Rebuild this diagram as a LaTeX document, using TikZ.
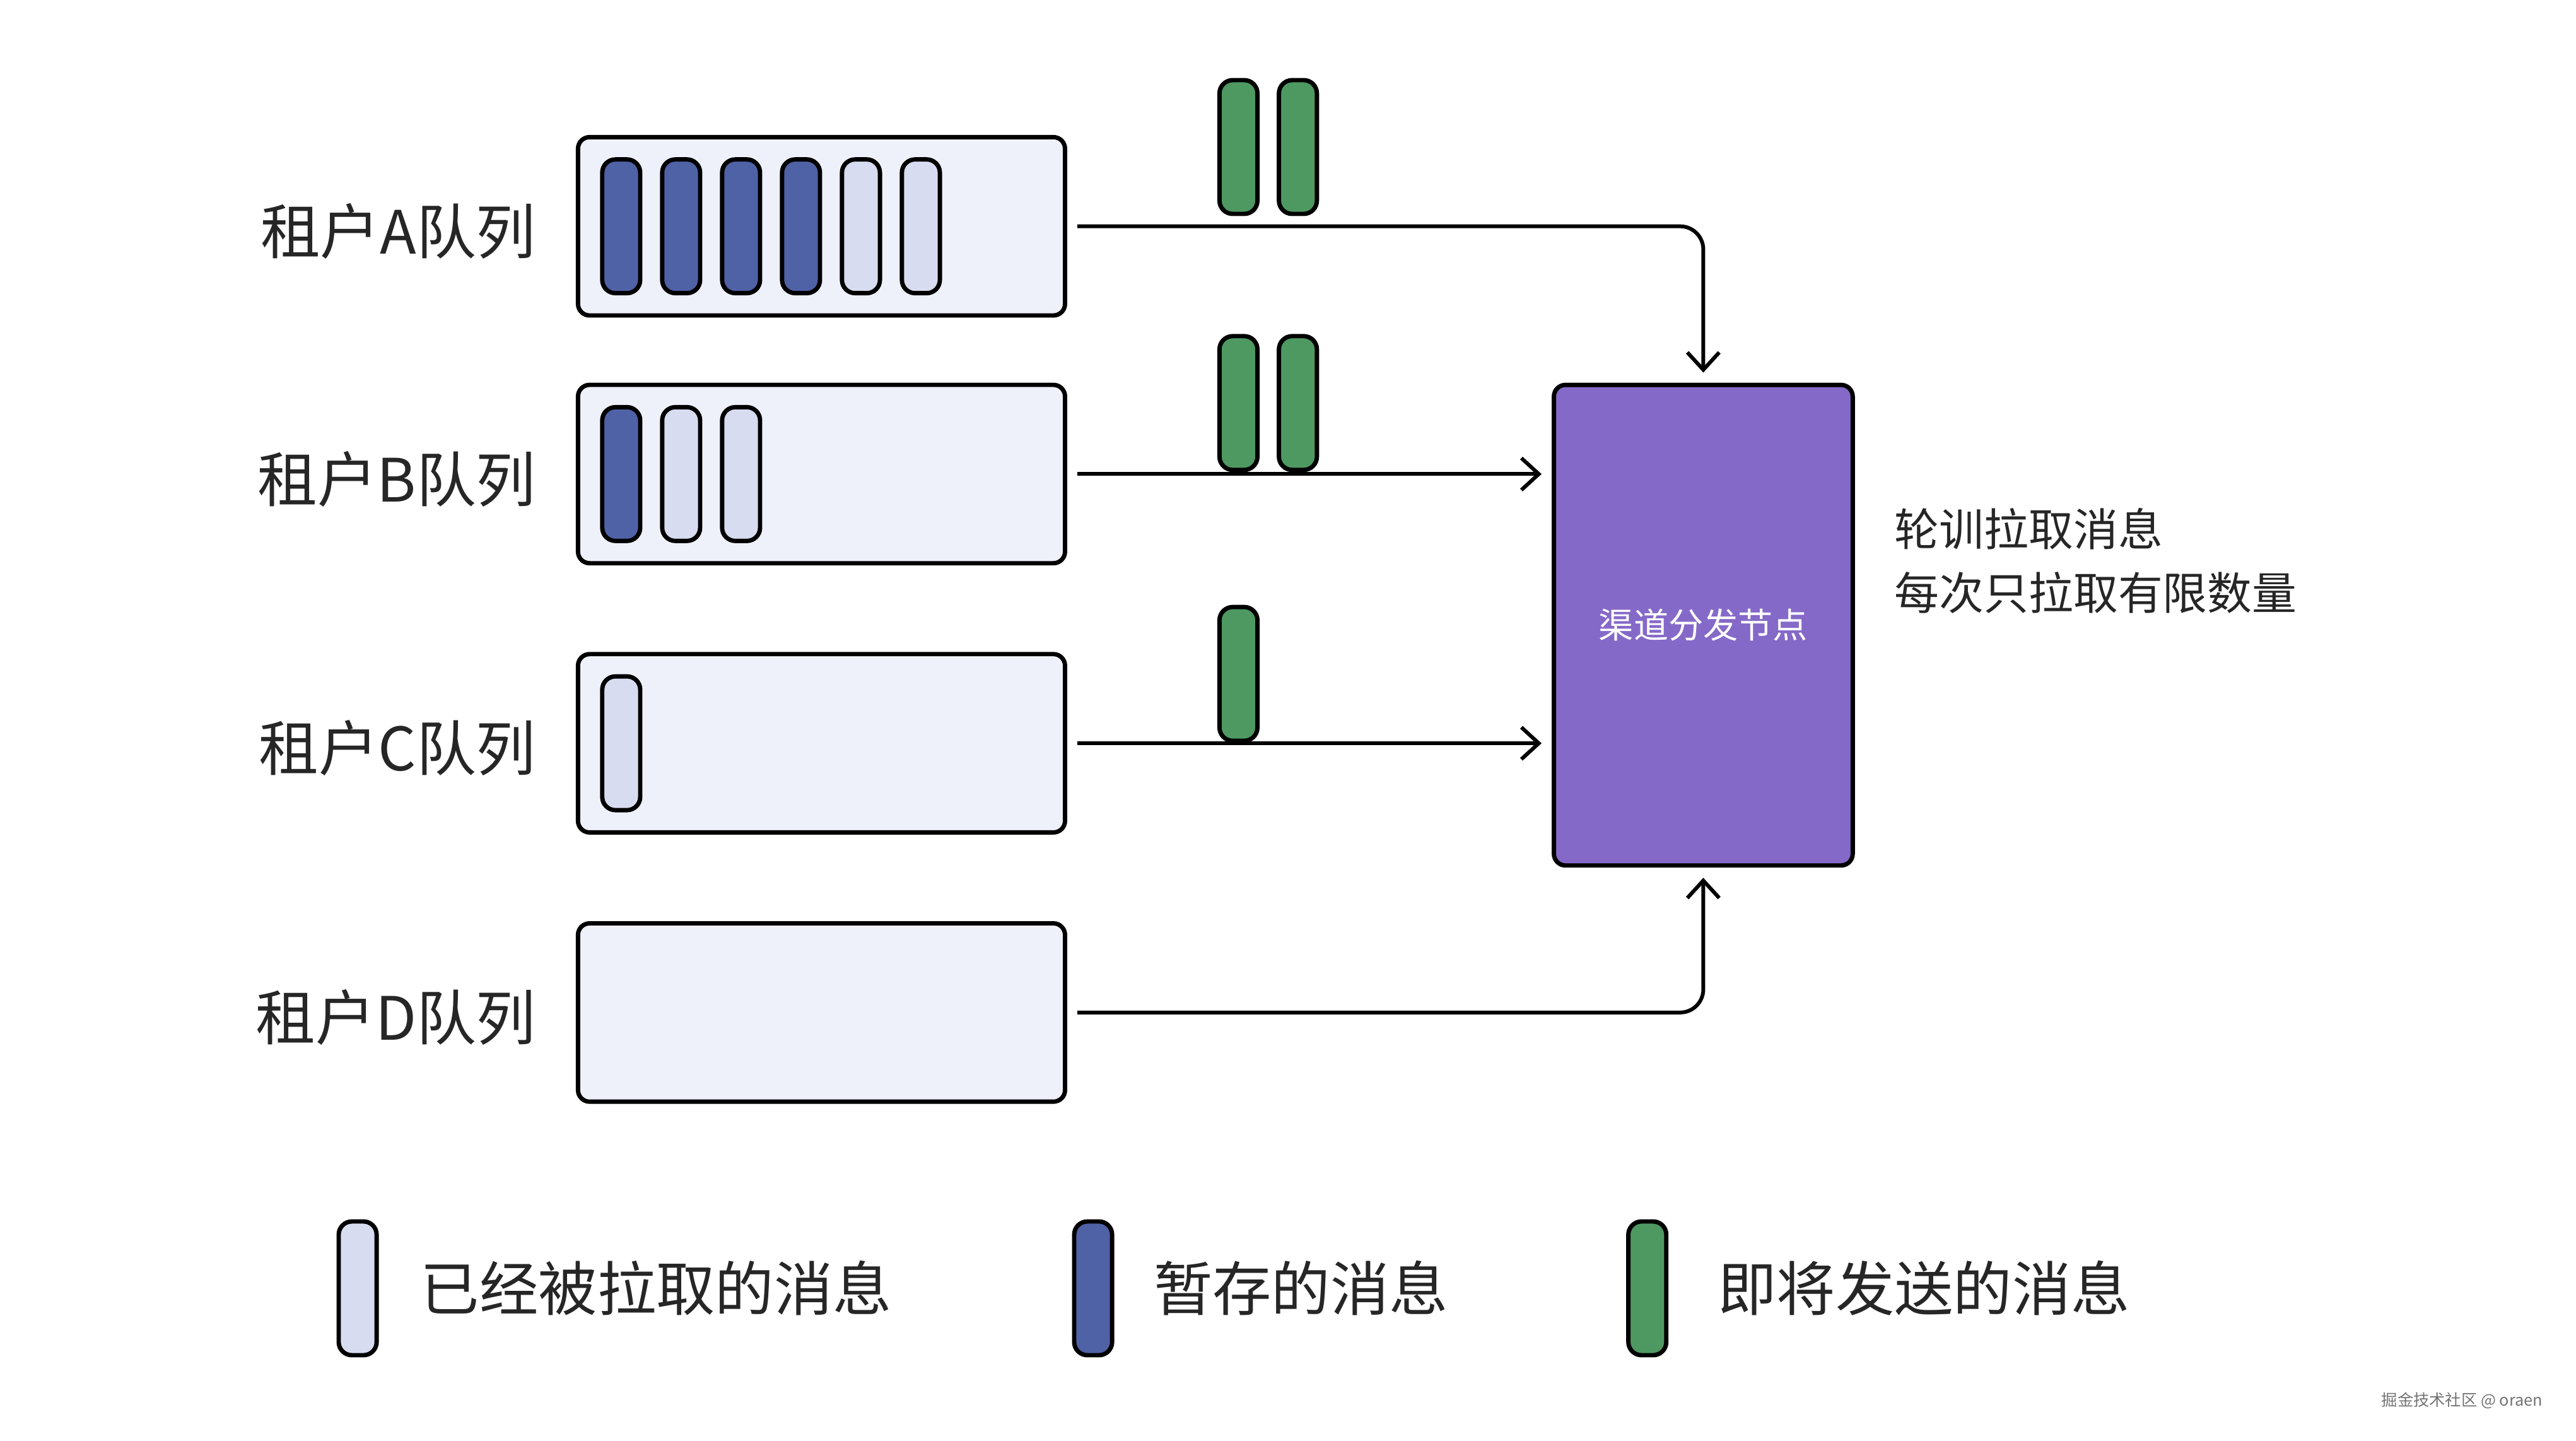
\documentclass[tikz,border=0pt]{standalone}
\usepackage{fontspec}
\setmainfont{Noto Sans CJK SC}
\usepackage{tikz}
\usetikzlibrary{positioning, arrows.meta}
\definecolor{queuefill}{HTML}{EEF1FA}
\definecolor{readfill}{HTML}{D8DCF0}
\definecolor{heldfill}{HTML}{5062A6}
\definecolor{sendfill}{HTML}{4E9962}
\definecolor{hubfill}{HTML}{8569C8}

\begin{document}
\begin{tikzpicture}[x=0.02cm, y=-0.02cm, >={Straight Barb[length=6pt,width=11pt]}, line width=1.3pt,
  queuebox/.style={draw, line width=1.5pt, rectangle, rounded corners=4pt, fill=queuefill, minimum width=5.9cm, minimum height=2.16cm, inner sep=0pt},
  msgbar/.style={draw, line width=1.5pt, rectangle, rounded corners=0.16cm, minimum width=0.46cm, minimum height=1.62cm, inner sep=0pt, outer sep=0pt},
  readmsg/.style={msgbar, fill=readfill},
  heldmsg/.style={msgbar, fill=heldfill},
  sendmsg/.style={msgbar, fill=sendfill},
  tenant/.style={inner sep=0pt, text=black!85, font=\fontsize{20.6}{24}\selectfont},
  legendtext/.style={inner sep=0pt, text=black!85, font=\fontsize{20.3}{24}\selectfont},
  flow/.style={->, rounded corners=8pt, shorten <=3.5pt, shorten >=3.5pt}]
\useasboundingbox (0,0) rectangle (1560,872.4);

% queues
\node (qA) [queuebox] at (497.5,137) {};
\node (qB) [queuebox] at (497.5,287) {};
\node (qC) [queuebox] at (497.5,450) {};
\node (qD) [queuebox] at (497.5,613) {};
\node (labA) [tenant, left=0.46cm of qA, yshift=-0.06cm] {租户A队列};
\node (labB) [tenant, left=0.46cm of qB, yshift=-0.06cm] {租户B队列};
\node (labC) [tenant, left=0.46cm of qC, yshift=-0.06cm] {租户C队列};
\node (labD) [tenant, left=0.46cm of qD, yshift=-0.06cm] {租户D队列};

% messages in the queues
\node (a1) [heldmsg, right=0.32cm of qA.west] {};
\node (a2) [heldmsg, right=0.266cm of a1] {};
\node (a3) [heldmsg, right=0.266cm of a2] {};
\node (a4) [heldmsg, right=0.266cm of a3] {};
\node (a5) [readmsg, right=0.266cm of a4] {};
\node (a6) [readmsg, right=0.266cm of a5] {};
\node (b1) [heldmsg, right=0.32cm of qB.west] {};
\node (b2) [readmsg, right=0.266cm of b1] {};
\node (b3) [readmsg, right=0.266cm of b2] {};
\node (c1) [readmsg, right=0.32cm of qC.west] {};

% hub
\node (hub) [draw, line width=1.5pt, rectangle, rounded corners=4pt, fill=hubfill, minimum width=3.62cm, minimum height=5.82cm, text=white, font=\fontsize{12}{14}\selectfont] at (1031.5,378.5) {渠道分发节点};
\node (note) [right=0.46cm of hub.east, yshift=0.78cm, align=left, inner sep=0pt, text=black!85, font=\fontsize{15.4}{22.1}\selectfont] {轮训拉取消息\\每次只拉取有限数量};

\draw[flow] (qA.east) -| (hub.north);
\draw[flow] (qB.east) -- (qB.east -| hub.west);
\draw[flow] (qC.east) -- (qC.east -| hub.west);
\draw[flow] (qD.east) -| (hub.south);

% messages on the way
\node (sA1) [sendmsg] at (750,89) {};
\node (sA2) [sendmsg] at (786,89) {};
\node (sB1) [sendmsg] at (750,244) {};
\node (sB2) [sendmsg] at (786,244) {};
\node (sC1) [sendmsg] at (750,408) {};

% legend
\node (keyread) [readmsg] at (216.6,780) {};
\node (keyreadtext) [legendtext, right=0.51cm of keyread] {已经被拉取的消息};
\node (keyheld) [heldmsg] at (662,780) {};
\node (keyheldtext) [legendtext, right=0.48cm of keyheld] {暂存的消息};
\node (keysend) [sendmsg] at (997.6,780) {};
\node (keysendtext) [legendtext, right=0.6cm of keysend] {即将发送的消息};

\node (mark) [inner sep=0pt, text=black!55, font=\fontsize{5.5}{6}\selectfont] at (1491,848) {掘金技术社区 @ oraen};
\end{tikzpicture}
\end{document}
